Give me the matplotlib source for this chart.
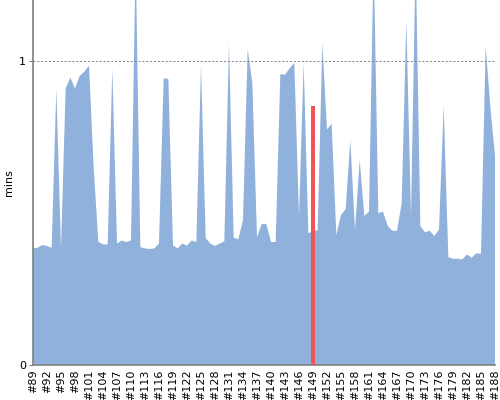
import numpy as np
import matplotlib
matplotlib.use("Agg")
import matplotlib.pyplot as plt

# build numbers and duration (minutes)
builds = list(range(89, 189))
mins = [
    0.384, 0.386, 0.395, 0.392, 0.386, 0.911, 0.384, 0.911, 0.946, 0.911,
    0.952, 0.966, 0.986, 0.650, 0.406, 0.397, 0.397, 0.977, 0.400, 0.410,
    0.405, 0.410, 1.350, 0.388, 0.384, 0.382, 0.384, 0.400, 0.944, 0.942,
    0.394, 0.384, 0.400, 0.393, 0.410, 0.405, 0.988, 0.418, 0.400, 0.392,
    0.400, 0.407, 1.060, 0.419, 0.414, 0.477, 1.040, 0.930, 0.420, 0.464,
    0.464, 0.405, 0.405, 0.958, 0.956, 0.977, 0.995, 0.488, 0.995, 0.434,
    0.440, 0.444, 1.060, 0.776, 0.794, 0.428, 0.494, 0.513, 0.741, 0.444,
    0.675, 0.491, 0.505, 1.350, 0.500, 0.505, 0.458, 0.442, 0.442, 0.532,
    1.136, 0.490, 1.350, 0.458, 0.437, 0.442, 0.425, 0.446, 0.853, 0.355,
    0.350, 0.350, 0.348, 0.364, 0.353, 0.368, 0.366, 1.050, 0.850, 0.690,
]

# highlighted build
marked_build = [149]
marked_mins = [0.853]

tick_builds = builds[::3]
tick_labels = ["#%d" % b for b in tick_builds]

fig = plt.figure(figsize=(5, 4), dpi=100)
ax = fig.add_axes([0.066, 0.0875, 0.924, 0.9125])

ax.fill_between(builds, mins, 0, color="#8fb1db", linewidth=0)
ax.bar(marked_build, marked_mins, width=0.9, color="#f05454", zorder=3)

ax.axhline(1, color="#808080", linestyle=(0, (2, 2)), linewidth=0.7, zorder=4)

ax.set_xlim(89, 188)
ax.set_ylim(0, 1.202)
ax.set_yticks([0, 1])
ax.set_yticklabels(["0", "1"], fontsize=8)
ax.set_xticks(tick_builds)
ax.set_xticklabels(tick_labels, rotation=90, fontsize=8)
ax.tick_params(axis="x", length=0, pad=3)
ax.tick_params(axis="y", length=3, color="#808080", pad=2)
ax.set_ylabel("mins", fontsize=8, labelpad=4)

ax.spines["top"].set_visible(False)
ax.spines["right"].set_visible(False)
ax.spines["left"].set_color("#808080")
ax.spines["bottom"].set_color("#808080")
ax.spines["left"].set_linewidth(1.2)
ax.spines["bottom"].set_linewidth(1.2)

fig.savefig("out.png", dpi=100)
